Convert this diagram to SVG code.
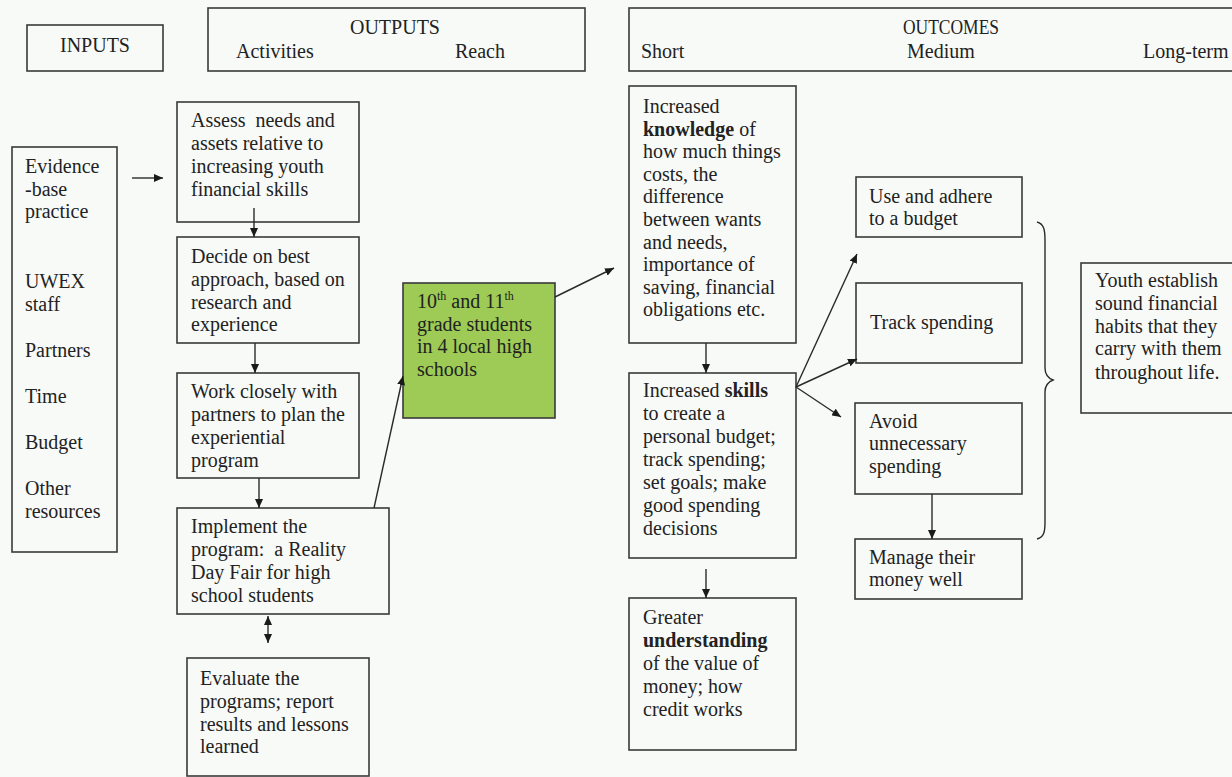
<svg xmlns="http://www.w3.org/2000/svg" width="1232" height="777" viewBox="0 0 1232 777">
<style>
.b{fill:none;stroke:#3a3a3a;stroke-width:1.6}
.g{fill:#9dcb55;stroke:#3a3a3a;stroke-width:1.6}
text{font-family:"Liberation Serif","Times New Roman",serif;font-size:20px;fill:#222}
.c{text-anchor:middle}
.bd{font-weight:bold}
.ln{fill:none;stroke:#2a2a2a;stroke-width:1.4}
</style>
<defs>
<marker id="ah" markerUnits="userSpaceOnUse" markerWidth="9" markerHeight="8" refX="9" refY="4" orient="auto-start-reverse">
<path d="M0,0 L9,4 L0,8 z" fill="#1a1a1a"/>
</marker>
</defs>
<rect width="1232" height="777" fill="#f8faf8"/>

<g id="hdr-inputs"><rect class="b" x="27" y="25" width="136" height="46"/><text class="c" x="95" y="52">INPUTS</text></g>
<g id="hdr-outputs"><rect class="b" x="208" y="8" width="377" height="63"/><text class="c" x="395" y="34">OUTPUTS</text><text x="236" y="58">Activities</text><text x="455" y="58">Reach</text></g>
<g id="hdr-outcomes"><rect class="b" x="629" y="8" width="610" height="63"/><text class="c" x="951" y="34" textLength="96" lengthAdjust="spacingAndGlyphs">OUTCOMES</text><text x="641" y="58">Short</text><text x="907" y="58">Medium</text><text x="1143" y="58">Long-term</text></g>

<g id="inputs"><rect class="b" x="12" y="147" width="105" height="405"/>
<text x="25" y="173">Evidence</text><text x="25" y="196">-base</text><text x="25" y="218">practice</text>
<text x="25" y="288">UWEX</text><text x="25" y="311">staff</text>
<text x="25" y="357">Partners</text><text x="25" y="403">Time</text><text x="25" y="449">Budget</text>
<text x="25" y="495">Other</text><text x="25" y="518">resources</text></g>

<g id="assess"><rect class="b" x="177" y="102" width="182" height="120"/>
<text x="191" y="127" xml:space="preserve">Assess  needs and</text><text x="191" y="150">assets relative to</text><text x="191" y="173">increasing youth</text><text x="191" y="196">financial skills</text></g>

<g id="decide"><rect class="b" x="177" y="237" width="182" height="106"/>
<text x="191" y="263">Decide on best</text><text x="191" y="286">approach, based on</text><text x="191" y="309">research and</text><text x="191" y="331">experience</text></g>

<g id="work"><rect class="b" x="177" y="373" width="182" height="105"/>
<text x="191" y="398">Work closely with</text><text x="191" y="421">partners to plan the</text><text x="191" y="444">experiential</text><text x="191" y="467">program</text></g>

<g id="implement"><rect class="b" x="177" y="508" width="212" height="106"/>
<text x="191" y="533">Implement the</text><text x="191" y="556" xml:space="preserve">program:  a Reality</text><text x="191" y="579">Day Fair for high</text><text x="191" y="602">school students</text></g>

<g id="evaluate"><rect class="b" x="187" y="658" width="182" height="118"/>
<text x="200" y="685">Evaluate the</text><text x="200" y="708">programs; report</text><text x="200" y="731">results and lessons</text><text x="200" y="753">learned</text></g>

<g id="reach"><rect class="g" x="403" y="283" width="152" height="135"/>
<text x="417" y="308">10<tspan font-size="12" dy="-8">th</tspan><tspan dy="8"> and 11</tspan><tspan font-size="12" dy="-8">th</tspan></text>
<text x="417" y="331">grade students</text><text x="417" y="353">in 4 local high</text><text x="417" y="376">schools</text></g>

<g id="knowledge"><rect class="b" x="629" y="86" width="167" height="257"/>
<text x="643" y="113">Increased</text><text x="643" y="136"><tspan class="bd">knowledge</tspan> of</text><text x="643" y="158">how much things</text><text x="643" y="181">costs, the</text><text x="643" y="203">difference</text><text x="643" y="226">between wants</text><text x="643" y="249">and needs,</text><text x="643" y="271">importance of</text><text x="643" y="294">saving, financial</text><text x="643" y="316">obligations etc.</text></g>

<g id="skills"><rect class="b" x="629" y="373" width="167" height="185"/>
<text x="643" y="397">Increased <tspan class="bd">skills</tspan></text><text x="643" y="420">to create a</text><text x="643" y="443">personal budget;</text><text x="643" y="466">track spending;</text><text x="643" y="489">set goals; make</text><text x="643" y="512">good spending</text><text x="643" y="535">decisions</text></g>

<g id="understanding"><rect class="b" x="629" y="598" width="167" height="152"/>
<text x="643" y="624">Greater</text><text x="643" y="647" class="bd">understanding</text><text x="643" y="670">of the value of</text><text x="643" y="693">money; how</text><text x="643" y="716">credit works</text></g>

<g id="budget"><rect class="b" x="856" y="177" width="166" height="60"/>
<text x="869" y="203">Use and adhere</text><text x="869" y="225">to a budget</text></g>

<g id="track"><rect class="b" x="856" y="283" width="166" height="80"/>
<text x="870" y="329">Track spending</text></g>

<g id="avoid"><rect class="b" x="855" y="403" width="167" height="91"/>
<text x="869" y="428">Avoid</text><text x="869" y="450">unnecessary</text><text x="869" y="473">spending</text></g>

<g id="manage"><rect class="b" x="855" y="539" width="167" height="60"/>
<text x="869" y="564">Manage their</text><text x="869" y="586">money well</text></g>

<g id="longterm"><rect class="b" x="1081" y="263" width="160" height="150"/>
<text x="1095" y="287">Youth establish</text><text x="1095" y="310">sound financial</text><text x="1095" y="333">habits that they</text><text x="1095" y="355">carry with them</text><text x="1095" y="379">throughout life.</text></g>

<g id="connectors">
<line class="ln" x1="132" y1="178" x2="163" y2="178" marker-end="url(#ah)"/>
<line class="ln" x1="254" y1="208" x2="254" y2="237" marker-end="url(#ah)"/>
<line class="ln" x1="255" y1="343" x2="255" y2="373" marker-end="url(#ah)"/>
<line class="ln" x1="259" y1="478" x2="259" y2="508" marker-end="url(#ah)"/>
<line class="ln" x1="268" y1="616" x2="268" y2="643" marker-start="url(#ah)" marker-end="url(#ah)"/>
<line class="ln" x1="374" y1="508" x2="403" y2="376" marker-end="url(#ah)"/>
<line class="ln" x1="555" y1="297" x2="614" y2="268" marker-end="url(#ah)"/>
<line class="ln" x1="706" y1="343" x2="706" y2="373" marker-end="url(#ah)"/>
<line class="ln" x1="706" y1="569" x2="706" y2="598" marker-end="url(#ah)"/>
<line class="ln" x1="796" y1="387" x2="857" y2="254" marker-end="url(#ah)"/>
<line class="ln" x1="796" y1="387" x2="857" y2="359" marker-end="url(#ah)"/>
<line class="ln" x1="796" y1="387" x2="841" y2="417" marker-end="url(#ah)"/>
<line class="ln" x1="932" y1="494" x2="932" y2="539" marker-end="url(#ah)"/>
<path class="ln" d="M1037,222 C1044,224 1045,230 1045,240 L1045,368 C1045,375 1048,378 1053,380 C1048,382 1045,385 1045,392 L1045,522 C1045,532 1044,537 1037,539"/>
</g>
</svg>
